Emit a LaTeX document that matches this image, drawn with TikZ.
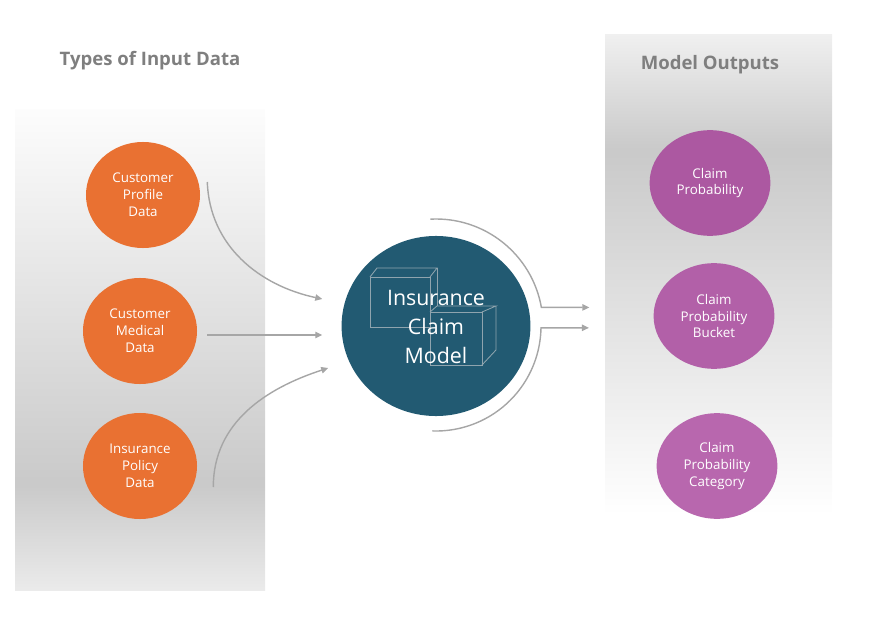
\documentclass[tikz,border=0pt]{standalone}
\usepackage{fontspec}
\setmainfont{Open Sans}
\usetikzlibrary{shapes.geometric,arrows.meta}
\definecolor{inputorange}{HTML}{E97132}
\definecolor{modelblue}{HTML}{225A72}
\definecolor{outpurple}{HTML}{AC58A1}
\definecolor{outpurplemid}{HTML}{B260A8}
\definecolor{outpurplelow}{HTML}{B867AE}
\definecolor{titlegray}{HTML}{7F7F7F}
\definecolor{flowgray}{HTML}{A6A6A6}
\definecolor{cubegray}{HTML}{8FA4AE}
\pgfdeclareverticalshading{leftpanel}{100bp}{color(0bp)=(black!8); color(25bp)=(black!8); color(36bp)=(black!21); color(75bp)=(black!1); color(100bp)=(black!1)}
\pgfdeclareverticalshading{rightpanel}{100bp}{color(0bp)=(white); color(25bp)=(white); color(63bp)=(black!21); color(75bp)=(black!6); color(100bp)=(black!6)}
\tikzset{inputdata/.style={ellipse, fill=inputorange, text=white, inner sep=+0pt, align=center, font=\fontsize{9.5}{12}\selectfont, minimum width=2.85cm, minimum height=2.65cm}}
\tikzset{output/.style={ellipse, text=white, inner sep=+0pt, align=center, font=\fontsize{9.5}{12}\selectfont, minimum width=3.02cm, minimum height=2.64cm}}
\tikzset{paneltitle/.style={text=titlegray, font=\fontsize{13.2}{15}\selectfont\bfseries}}
\tikzset{flow/.style={-{Triangle[length=5pt,width=4.5pt]}, color=flowgray, line width=1pt}}
\tikzset{cube/.style={color=cubegray, line width=0.6pt}}

\begin{document}
\begin{tikzpicture}[x=0.025cm,y=0.025cm]
    \useasboundingbox (0,0) rectangle (879,626);

    \shade[shading=leftpanel] (15,36) rectangle (265,516);
    \shade[shading=rightpanel] (605,111) rectangle (832,591);

    \node[paneltitle] (intitle) at (150,565) {Types of Input Data};
    \node[paneltitle] (outtitle) at (710,561) {Model Outputs};

    \node[inputdata] (profile) at (143,431) {Customer\\Profile\\Data};
    \node[inputdata] (medical) at (140,295) {Customer\\Medical\\Data};
    \node[inputdata] (policy) at (140,160) {Insurance\\Policy\\Data};

    \node[ellipse, fill=modelblue, minimum width=4.72cm, minimum height=4.5cm] (model) at (436,300) {};

    % cubes behind the model label
    \draw[cube] (370,299) rectangle (430,349);
    \draw[cube] (370,349) -- (377,358) -- (437,358) -- (430,349);
    \draw[cube] (437,358) -- (437,320);
    \draw[cube] (430,261) rectangle (482,314);
    \draw[cube] (430,314) -- (437,320) -- (496,320) -- (482,314);
    \draw[cube] (496,320) -- (496,276) -- (482,261);

    \node[text=white, align=center, font=\fontsize{15.2}{20.5}\selectfont] (modellabel) at (436,299) {Insurance\\Claim\\Model};

    \node[output, fill=outpurple] (prob) at (710,443) {Claim\\Probability};
    \node[output, fill=outpurplemid] (bucket) at (714,310) {Claim\\Probability\\Bucket};
    \node[output, fill=outpurplelow] (category) at (717,160) {Claim\\Probability\\Category};

    \draw[flow] ([shift={(7,13)}]profile.east) to[out=-88, in=168] ([shift={(-19,27)}]model.west);
    \draw[flow] ([shift={(10,-4)}]medical.east) -- ([shift={(-19,-4)}]medical.east -| model.west);
    \draw[flow] ([shift={(16,-21)}]policy.east) to[out=90, in=-162] ([shift={(-13,-42)}]model.west);

    \draw[flow] ([shift={(93:107)}]model.center) arc[start angle=93, end angle=10, radius=107] -- ++(48,0);
    \draw[flow] ([shift={(-92:105)}]model.center) arc[start angle=-92, end angle=-1, radius=105] -- ++(48,0);
\end{tikzpicture}
\end{document}
